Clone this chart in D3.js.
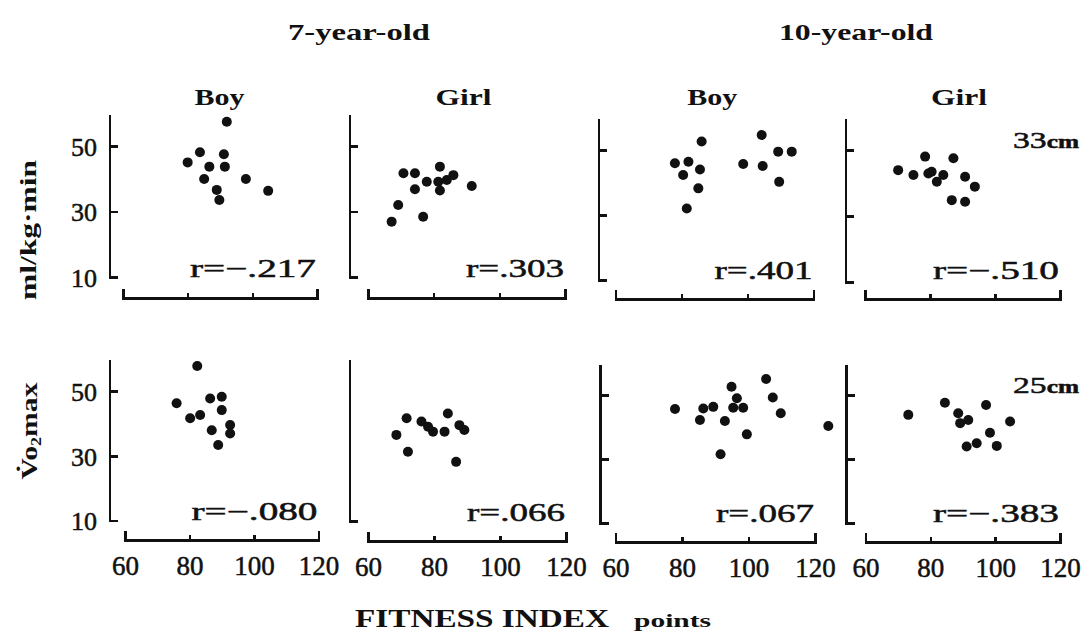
<!DOCTYPE html>
<html>
<head>
<meta charset="utf-8">
<script src="https://cdn.jsdelivr.net/npm/d3@7"></script>
<style>
  body { margin: 0; background: #fff; }
  svg { display: block; }
  .axis path, .axis line { stroke: #111; stroke-width: 2.6; fill: none; shape-rendering: crispEdges; }
  .axis text { font-family: "Liberation Serif", serif; fill: #111; stroke: #111; stroke-width: 0.5; }
  text { font-family: "Liberation Serif", serif; fill: #111; }
  .num { stroke: #111; stroke-width: 0.5; }
</style>
</head>
<body>
<script>
// ---- data: [fitness index, VO2max] ----
var boy7_33 = [[92.1,57.4],[80.0,45.0],[83.8,48.1],[86.7,43.7],[85.1,39.9],[91.2,47.5],
               [91.5,43.7],[89.0,36.6],[89.8,33.5],[98.0,39.9],[104.9,36.3]];
var girl7_33 = [[67.2,26.9],[69.2,32.0],[76.8,28.4],[70.8,41.7],[74.3,41.7],[74.3,36.8],
                [77.9,39.1],[81.9,43.7],[81.4,39.1],[81.9,36.4],[86.0,41.1],[91.6,37.8],[84.0,39.6]];
var boy10_33 = [[86.1,52.6],[78.0,45.9],[82.1,46.4],[85.6,44.0],[80.5,42.3],[85.1,38.2],
                [81.6,32.0],[104.3,54.6],[98.7,45.7],[104.6,45.1],[109.3,49.5],[113.4,49.5],[109.6,40.2]];
var girl10_33 = [[70.2,43.9],[74.9,42.4],[78.5,48.0],[80.5,43.4],[82.1,40.4],[84.1,42.4],
                 [87.2,47.5],[90.8,41.9],[93.8,38.9],[86.7,34.8],[90.8,34.3],[79.5,42.9]];
var boy7_25 = [[82.4,57.7],[76.0,46.2],[80.2,41.6],[83.3,42.6],[86.4,47.7],[90.0,48.2],
               [90.0,44.1],[86.9,37.9],[92.6,39.5],[92.6,36.9],[88.9,33.3]];
var girl7_25 = [[68.6,36.5],[71.7,41.6],[72.1,31.3],[76.2,40.6],[79.7,37.5],[84.2,43.1],
                [83.2,37.5],[87.7,39.5],[89.2,38.0],[86.7,28.2],[78.2,39.0]];
var boy10_25 = [[77.9,45.6],[85.4,42.2],[86.4,45.8],[89.4,46.3],[92.9,41.9],[94.9,52.6],
                [96.5,49.0],[95.4,46.0],[98.4,46.0],[99.5,37.7],[91.6,31.5],[105.3,55.0],
                [107.3,49.2],[109.7,44.3],[124.0,40.3]];
var girl10_25 = [[73.2,43.8],[84.5,47.6],[88.6,44.3],[89.2,41.2],[91.7,42.2],[97.2,46.9],
                 [104.6,41.7],[98.4,38.2],[100.5,34.1],[91.2,33.9],[94.3,34.9]];

var rLabels = ['r=\u2212.217', 'r=.303', 'r=.401', 'r=\u2212.510',
               'r=\u2212.080', 'r=.066', 'r=.067', 'r=\u2212.383'];
var xTicks = [60, 80, 100, 120];
var yTicks = [10, 30, 50];
var ages = ['7-year-old', '10-year-old'];
var sexes = ['Boy', 'Girl', 'Boy', 'Girl'];
var heights = ['33', '25'];

var series = [boy7_33, girl7_33, boy10_33, girl10_33, boy7_25, girl7_25, boy10_25, girl10_25];

// panel frames as they sit in the scanned figure (slightly uneven)
var layout = [
  {ax: 110,   x60: 123,   x120: 317,   y10: 277,   y50: 146, by: 298, ry: 268},
  {ax: 350,   x60: 368,   x120: 565,   y10: 277,   y50: 146, by: 298, ry: 268},
  {ax: 599,   x60: 615.5, x120: 813.5, y10: 280,   y50: 150, by: 299, ry: 270},
  {ax: 846,   x60: 865,   x120: 1060,  y10: 282,   y50: 150, by: 299, ry: 270},
  {ax: 110,   x60: 125,   x120: 318.5, y10: 520.5, y50: 391, by: 540, ry: 511},
  {ax: 350,   x60: 368,   x120: 566,   y10: 521,   y50: 391, by: 541, ry: 512},
  {ax: 600.5, x60: 615.5, x120: 815,   y10: 523,   y50: 395, by: 542, ry: 513},
  {ax: 846.5, x60: 865.5, x120: 1060,  y10: 523,   y50: 395, by: 542, ry: 513}
];
var yTop = 59.5;

var svg = d3.select('body').append('svg')
    .attr('width', 1083)
    .attr('height', 632);

series.forEach(function(data, i) {
  var box = layout[i],
      col = i % 4,
      row = Math.floor(i / 4);

  var x = d3.scaleLinear().domain([60, 120]).range([box.x60, box.x120]);
  var y = d3.scaleLinear().domain([10, 50]).range([box.y10, box.y50]);

  var g = svg.append('g').attr('class', 'panel');

  // y axis: ticks point inward, the tick at 10 makes the corner
  var ya = g.append('g')
      .attr('class', 'axis')
      .attr('transform', translation(box.ax, 0))
      .call(d3.axisRight(y)
        .tickValues(i === 5 ? [10] : yTicks)
        .tickSize(8)
        .tickFormat(''));
  ya.select('.domain').remove();
  ya.append('line')
      .attr('x1', 0).attr('x2', 0)
      .attr('y1', y(10) + 1.5)
      .attr('y2', y(yTop));

  // y tick labels only on the first column
  if (col === 0) {
    var yl = g.append('g')
        .attr('class', 'axis')
        .attr('transform', translation(box.ax, 0))
        .call(d3.axisLeft(y).tickValues(yTicks).tickSize(0).tickPadding(13));
    yl.select('.domain').remove();
    yl.selectAll('text').style('font-size', '26px').attr('dy', '0.36em');
  }

  // x axis as a separate bracket below the panel
  g.append('g')
      .attr('class', 'axis')
      .attr('transform', translation(0, box.by))
      .call(d3.axisTop(x)
        .tickValues(xTicks)
        .tickSizeInner(5)
        .tickSizeOuter(9)
        .tickFormat(''));

  if (row === 1) {
    var xl = g.append('g')
        .attr('class', 'axis')
        .attr('transform', translation(0, box.by))
        .call(d3.axisBottom(x).tickValues(xTicks).tickSize(0).tickPadding(16));
    xl.select('.domain').remove();
    xl.selectAll('text').style('font-size', '27px');
  }

  // points
  g.selectAll('circle')
      .data(data)
      .enter().append('circle')
      .attr('cx', function(d) { return x(d[0]); })
      .attr('cy', function(d) { return y(d[1]); })
      .attr('r', 5)
      .attr('fill', '#111');

  // correlation
  var rText = rLabels[i];
  g.append('text')
      .attr('class', 'num')
      .attr('x', box.x120 - 1)
      .attr('y', box.ry)
      .attr('dy', '0.35em')
      .attr('text-anchor', 'end')
      .attr('textLength', rText.indexOf('\u2212') > -1 ? 126 : 98)
      .attr('lengthAdjust', 'spacingAndGlyphs')
      .style('font-size', '25px')
      .text(rText);

  // sex heading above top row
  if (row === 0) {
    g.append('text')
        .attr('x', (box.ax + box.x120) / 2 + 6)
        .attr('y', 105)
        .attr('text-anchor', 'middle')
        .attr('textLength', sexes[col] === 'Boy' ? 50 : 56)
        .attr('lengthAdjust', 'spacingAndGlyphs')
        .style('font-size', '24px')
        .style('font-weight', 'bold')
        .text(sexes[col]);
  }
});

// age headings
svg.selectAll('.age')
    .data(ages)
    .enter().append('text')
    .attr('class', 'age')
    .attr('x', function(d, i) { return i === 0 ? 359 : 856; })
    .attr('y', 40)
    .attr('text-anchor', 'middle')
    .attr('textLength', function(d, i) { return i === 0 ? 142 : 154; })
    .attr('lengthAdjust', 'spacingAndGlyphs')
    .style('font-size', '23px')
    .style('font-weight', 'bold')
    .text(function(d) { return d; });

// bench heights
heights.forEach(function(h, i) {
  var t = svg.append('text')
      .attr('class', 'num')
      .attr('x', 1013)
      .attr('y', i === 0 ? 148 : 393)
      .attr('textLength', 66)
      .attr('lengthAdjust', 'spacingAndGlyphs')
      .style('font-size', '24px');
  t.append('tspan').text(h);
  t.append('tspan').style('font-size', '18px').style('font-weight', 'bold').text('cm');
});

// y titles
svg.append('text')
    .attr('transform', translation(36, 230) + 'rotate(-90)')
    .attr('text-anchor', 'middle')
    .attr('textLength', 140)
    .attr('lengthAdjust', 'spacingAndGlyphs')
    .style('font-size', '23px')
    .style('font-weight', 'bold')
    .text('ml/kg\u00b7min');

var vo = svg.append('text')
    .attr('transform', translation(37, 431) + 'rotate(-90)')
    .attr('text-anchor', 'middle')
    .attr('textLength', 97)
    .attr('lengthAdjust', 'spacingAndGlyphs')
    .style('font-size', '23px')
    .style('font-weight', 'bold');
vo.append('tspan').text('V\u0307o');
vo.append('tspan').attr('dy', 4).style('font-size', '14px').text('2');
vo.append('tspan').attr('dy', -4).text('max');

// x title
svg.append('text')
    .attr('x', 355)
    .attr('y', 627)
    .attr('textLength', 254)
    .attr('lengthAdjust', 'spacingAndGlyphs')
    .style('font-size', '26px')
    .style('font-weight', 'bold')
    .text('FITNESS INDEX');
svg.append('text')
    .attr('x', 634)
    .attr('y', 627)
    .attr('textLength', 77)
    .attr('lengthAdjust', 'spacingAndGlyphs')
    .style('font-size', '19px')
    .style('font-weight', 'bold')
    .text('points');

// string concat for translate
function translation(x, y) {
  return 'translate(' + x + ',' + y + ')';
}
</script>
</body>
</html>
